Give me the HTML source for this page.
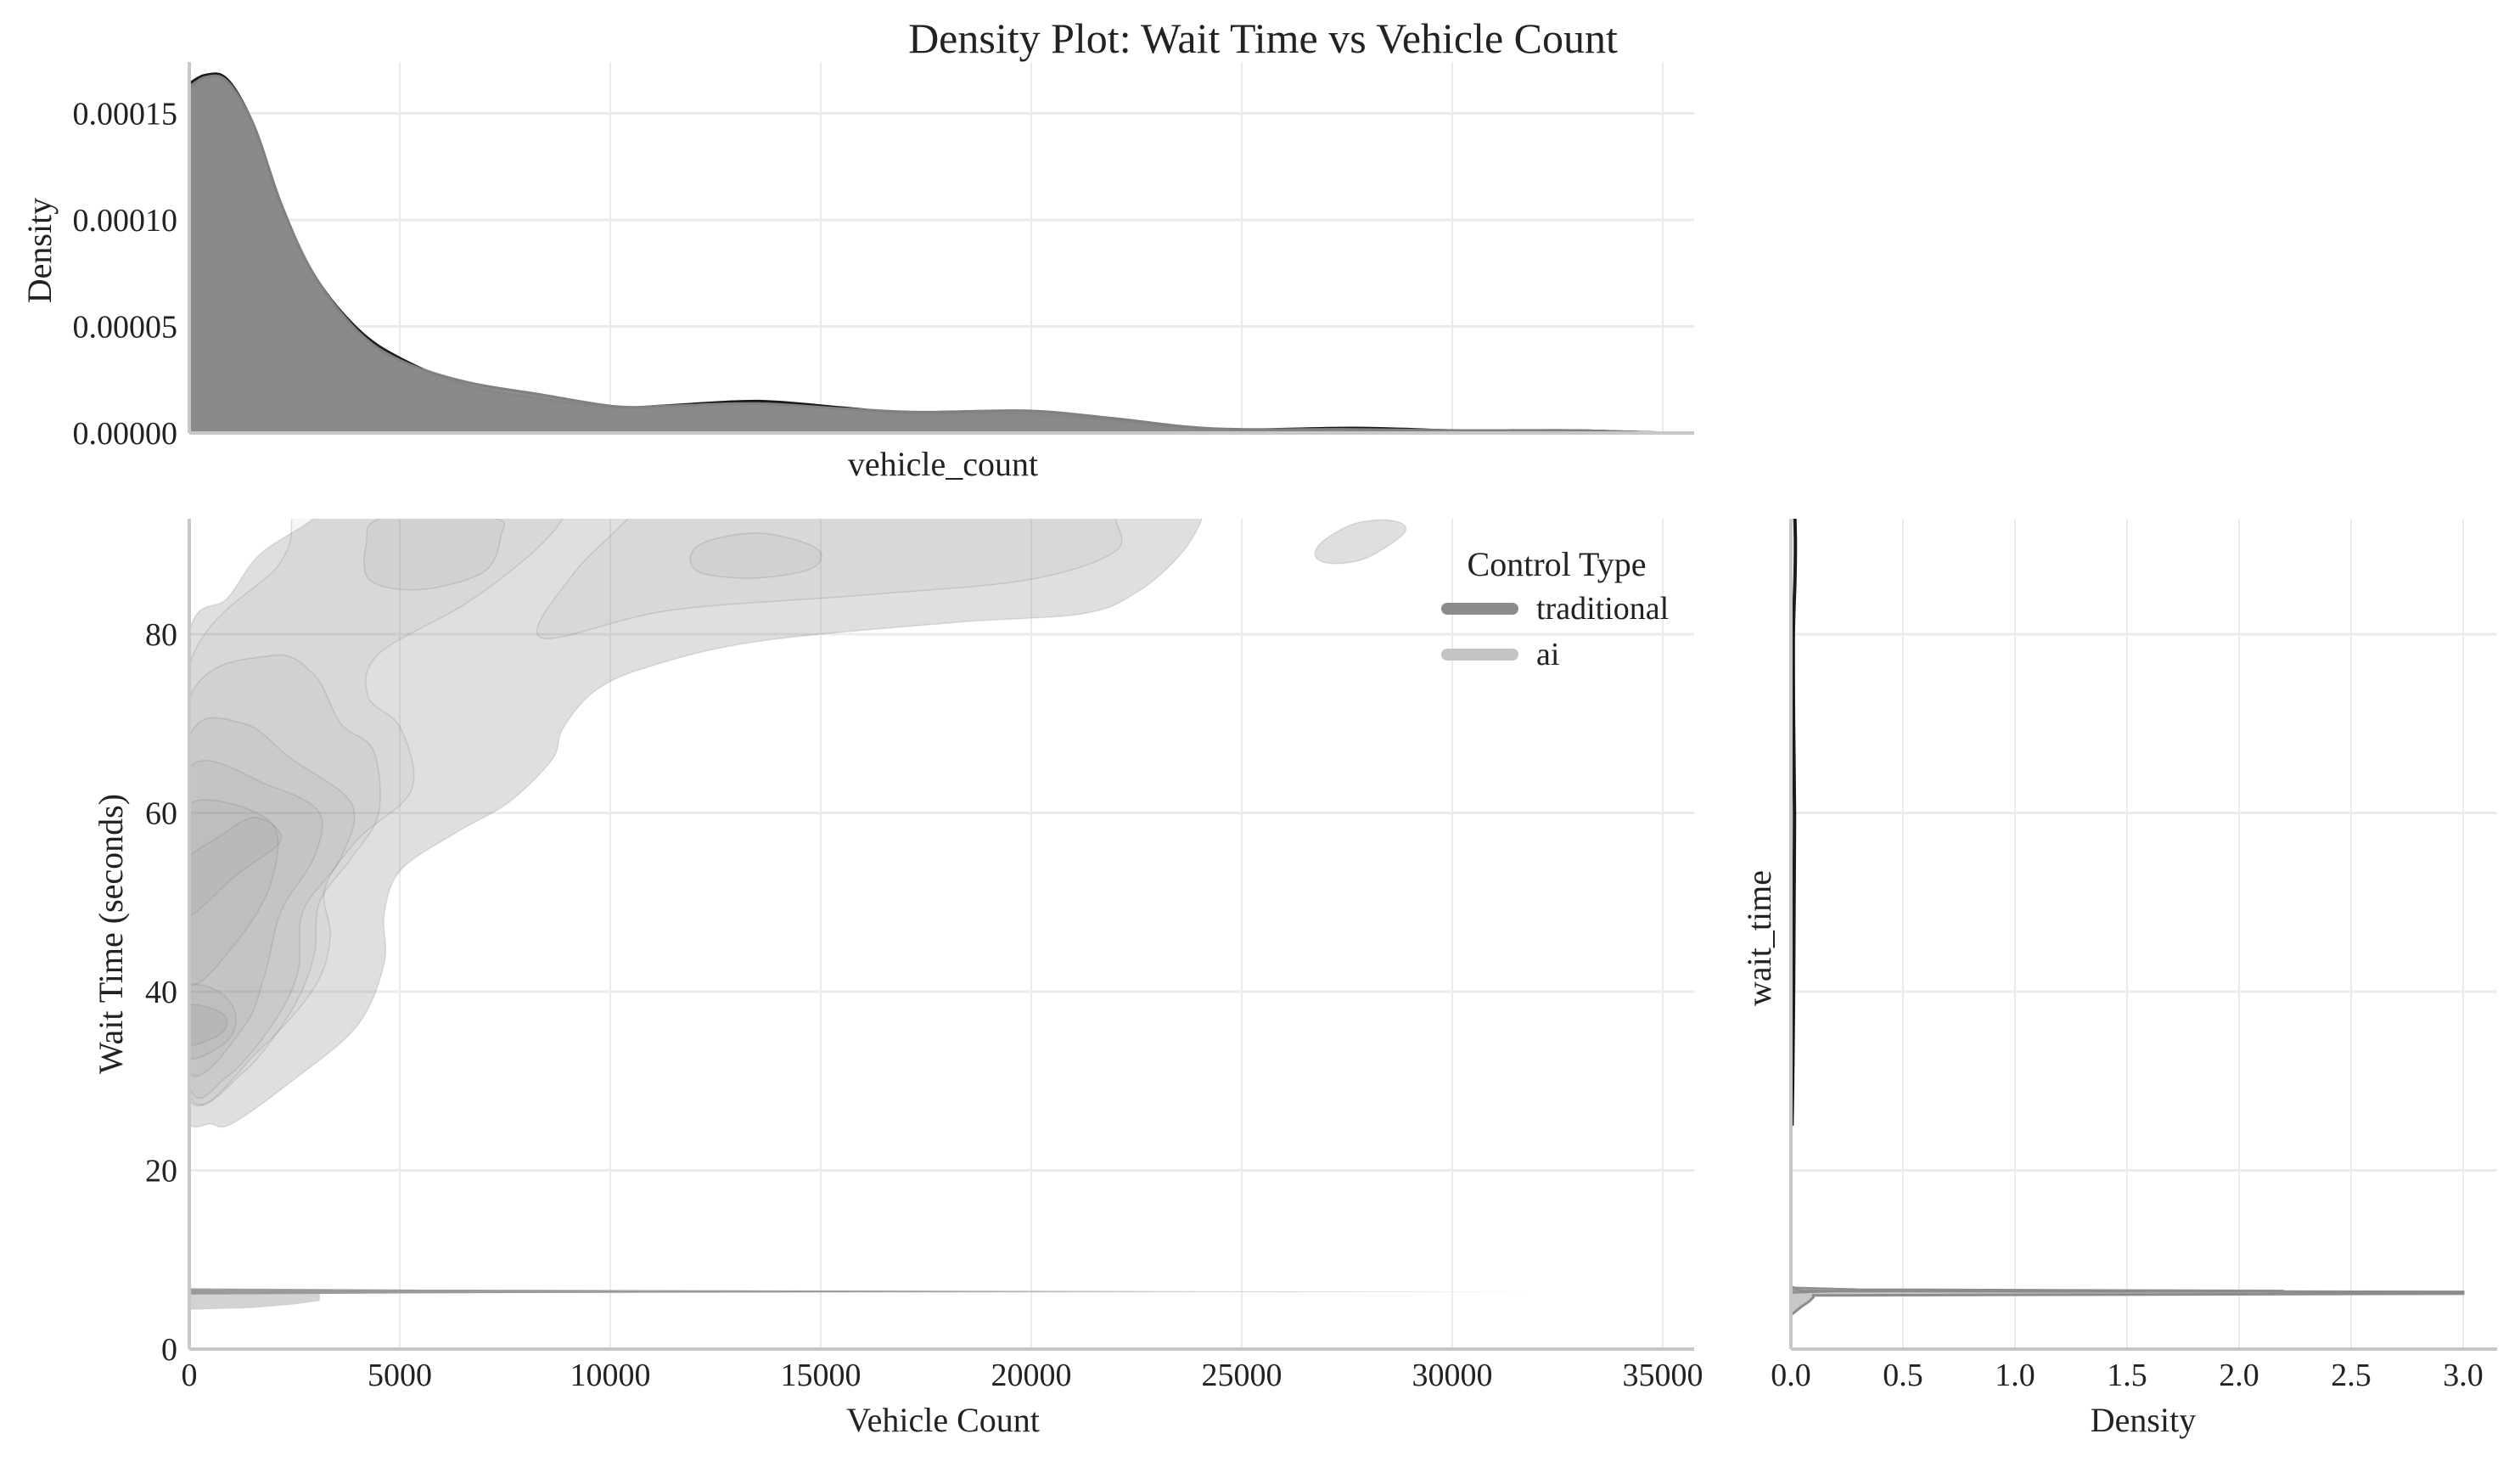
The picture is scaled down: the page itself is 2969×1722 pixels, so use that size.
<!DOCTYPE html>
<html><head><meta charset="utf-8"><style>
html,body{margin:0;padding:0;background:#fff;}
svg{display:block;font-family:"Liberation Serif",serif;}
</style></head><body>
<svg id="chart" width="2969" height="1722" viewBox="0 0 2969 1722" xmlns="http://www.w3.org/2000/svg">
<text x="1488" y="62" font-size="50" text-anchor="middle" fill="#222">Density Plot: Wait Time vs Vehicle Count</text>
<g id="topg"></g><g id="maing"></g><g id="rightg"></g>
</svg>
<script>
// ---- data ----
const xTicks = [0,5000,10000,15000,20000,25000,30000,35000];
const yTicks = [0,20,40,60,80];
const topTicks = [0,0.00005,0.0001,0.00015];
const topTickLabels = ["0.00000","0.00005","0.00010","0.00015"];
const rightTicks = [0,0.5,1.0,1.5,2.0,2.5,3.0];
const rightTickLabels = ["0.0","0.5","1.0","1.5","2.0","2.5","3.0"];
const seriesNames = ["traditional","ai"];
// marginal density of vehicle_count [vehicle, density]
const topAi = [[0,0.000162],[386,0.000167],[900,0.000165],[1540,0.000144],[2190,0.000107],[2960,0.0000743],[3990,0.000048],[5020,0.000034],[6560,0.0000240],[8360,0.0000180],[10160,0.0000124],[11450,0.0000128],[13510,0.0000138],[15570,0.0000114],[17370,0.0000098],[19940,0.0000104],[22000,0.0000068],[24310,0.0000021],[27660,0.0000017],[30230,0.0000012],[32800,0.0000012],[34860,0.0000002],[36500,0]];
const topTrad = [[0,0.000164],[386,0.000168],[900,0.000166],[1540,0.000144],[2190,0.000107],[2960,0.0000743],[3990,0.000049],[5020,0.000035],[6560,0.0000225],[8360,0.0000160],[10160,0.0000120],[11450,0.0000130],[13510,0.0000150],[15570,0.0000118],[17370,0.0000090],[19940,0.0000090],[22000,0.0000058],[24310,0.0000016],[27660,0.0000024],[30230,0.0000011],[32800,0.0000012],[34860,0.0000002],[36500,0]];
// KDE contour levels [vehicle, wait]
const level1 = [[0,25.2],[500,25.2],[1000,25.2],[2440,30],[3990,36.2],[4630,43.2],[4630,48.7],[5020,53.6],[6300,57.7],[7590,61.2],[8620,66],[8880,69.5],[9650,73.7],[10940,76.4],[13510,79.2],[18140,81.3],[21230,82.3],[22510,84.7],[23540,88.9],[24060,93],[24000,95],[2960,95],[2960,93],[1670,88.9],[900,84],[0,80.2],[-300,60],[-300,30]];
const level1b = [[26760,88.6],[27200,87.9],[28000,88.6],[28870,91.4],[28600,92.7],[27700,92.4],[26900,90.3]];
const level2a = [[0,27.9],[1670,33.5],[2960,40.4],[3350,46],[3220,51.5],[3990,57],[5280,62.6],[5020,69.5],[4250,73],[4500,77.8],[6560,83.4],[8100,88.9],[8880,93],[8880,95],[2440,95],[2440,93],[2130,87.8],[0,76.5],[-300,50]];
const level2b = [[8360,79.6],[11450,82.7],[16080,84.4],[19940,86.1],[22000,89.3],[22000,93],[22000,95],[10420,95],[10420,93],[9130,86.8]];
const level3a = [[0,28.5],[1290,31],[2440,38],[2960,44],[3090,50],[3860,55],[4500,60],[4370,67],[3600,70],[2960,75.5],[1930,77.6],[0,72.8],[-300,50]];
const level3b = [[4300,86],[5500,85],[7000,87],[7400,91],[7200,93],[4600,93],[4200,90]];
const level3c = [[12200,86.8],[13500,86.3],[14800,87.4],[14900,89.6],[13600,91.3],[12300,90.4],[11900,88.6]];
const level4 = [[0,29.5],[900,30.5],[1930,36],[2570,42],[2700,49],[3600,55],[3860,61],[2440,66],[1290,70],[0,68.5],[-300,50]];
const level5 = [[0,31],[1290,36],[1800,42],[2180,49],[2960,55],[3090,60],[1930,63],[0,65],[-300,48]];
const level6a = [[0,41],[1030,45],[1930,52],[1930,59],[0,61],[-300,51]];
const level6b = [[0,32.5],[900,34.5],[1100,37.5],[700,40],[0,40.5],[-300,36]];
const level7a = [[0,48.5],[1100,53],[2180,57],[1550,59.5],[600,57],[0,55],[-300,51]];
const level7b = [[0,34],[800,35.5],[800,37.5],[0,38.5],[-300,36]];
const aiBand = [[0,4.4],[1500,4.6],[2500,5.0],[3100,5.4],[3100,6.2],[10000,6.3],[32000,6.4],[10000,6.6],[0,6.7]];
const tradBand = [[0,6.1],[6000,6.25],[24000,6.45],[6000,6.65],[0,6.8]];
// marginal density of wait_time [wait, density]
const rightTrad = [[25,0.005],[30,0.008],[40,0.012],[50,0.014],[60,0.016],[70,0.012],[80,0.011],[86,0.018],[90,0.02],[93,0.018]];
const rightAiSpike = [[3.8,0],[4.2,0.02],[4.8,0.05],[5.3,0.08],[5.8,0.1],[6.0,0.1],[6.2,3.0],[6.4,3.0],[6.5,0.05],[6.8,0.02],[7,0]];
const rightTradSpike = [[6.3,0],[6.45,0.2],[6.55,2.2],[6.7,0.3],[6.9,0]];

// ---- layout ----
const NS="http://www.w3.org/2000/svg";
const X0=223, X1=1996, PX=248/5000;
const sx = v => X0 + v*PX;
const TY0=510, TY1=73, sty = d => TY0 - d/0.00005*125.5;
const MY0=1589, MY1=611, sy = w => MY0 - w*10.525;
const RX0=2110, RX1=2942, srx = d => RX0 + d*264;
const TICK=38, LAB=40;

function el(parent,tag,attrs){const e=document.createElementNS(NS,tag);for(const k in attrs)e.setAttribute(k,attrs[k]);parent.appendChild(e);return e;}
function txt(parent,x,y,s,size,anchor,rot){const t=el(parent,'text',{x:x,y:y,'font-size':size,'text-anchor':anchor||'middle',fill:'#222'});if(rot)t.setAttribute('transform',`rotate(-90 ${x} ${y})`);t.textContent=s;return t;}
function pathOf(pts,fx,fy){return 'M'+pts.map(p=>fx(p[0]).toFixed(1)+','+fy(p[1]).toFixed(1)).join(' L')+' Z';}
function smooth(pts,fx,fy,close){
  const P=pts.map(p=>[fx(p[0]),fy(p[1])]);const n=P.length;let d=`M${P[0][0]},${P[0][1]}`;
  for(let i=0;i<(close?n:n-1);i++){const p0=P[(i-1+n)%n],p1=P[i],p2=P[(i+1)%n],p3=P[(i+2)%n];
    const a0=(close||i>0)?p0:p1, a3=(close||i<n-2)?p3:p2;
    d+=` C${p1[0]+(p2[0]-a0[0])/6},${p1[1]+(p2[1]-a0[1])/6} ${p2[0]-(a3[0]-p1[0])/6},${p2[1]-(a3[1]-p1[1])/6} ${p2[0]},${p2[1]}`;}
  return d+(close?' Z':'');}

// ---- top marginal ----
const topG=document.getElementById('topg');
xTicks.forEach(v=>{if(v>0){const g=el(topG,'line',{x1:sx(v),x2:sx(v),y1:TY1,y2:TY0,stroke:'#ebebeb','stroke-width':2});

}});
topTicks.forEach((v,i)=>{if(v>0){const g=el(topG,'line',{x1:X0,x2:X1,y1:sty(v),y2:sty(v),stroke:'#ebebeb','stroke-width':3});

}
const t=txt(topG,X0-14,sty(v)+13,topTickLabels[i],TICK,'end');

});
const tclip=el(topG,'clipPath',{id:'tclip'});el(tclip,'rect',{x:X0,y:0,width:X1-X0,height:TY0+2});
const tg=el(topG,'g',{'clip-path':'url(#tclip)'});
function areaTop(data,fill,stroke,name){
const p=el(tg,'path',{d:smooth(data,sx,sty,false)+` L${sx(data[data.length-1][0])},${TY0} L${sx(0)},${TY0} Z`,fill:fill,stroke:stroke,'stroke-width':3});

}
areaTop(topTrad,'#8a8a8a','#1a1a1a','top-density-traditional');
areaTop(topAi,'rgba(138,138,138,0.97)','#808080','top-density-ai');
el(topG,'line',{x1:X0,x2:X0,y1:TY1,y2:TY0,stroke:'#c8c8c8','stroke-width':4});
el(topG,'line',{x1:X0,x2:X1,y1:TY0,y2:TY0,stroke:'#c8c8c8','stroke-width':4});
let t1=txt(topG,1111,560,'vehicle_count',LAB);


let t2=txt(topG,60,295,'Density',LAB,'middle',true);



// ---- main joint plot ----
const mainG=document.getElementById('maing');
xTicks.forEach(v=>{if(v>0){const g=el(mainG,'line',{x1:sx(v),x2:sx(v),y1:MY1,y2:MY0,stroke:'#ebebeb','stroke-width':2});

}
const t=txt(mainG,sx(v),1632,String(v),TICK);

});
yTicks.forEach(v=>{if(v>0){const g=el(mainG,'line',{x1:X0,x2:X1,y1:sy(v),y2:sy(v),stroke:'#ebebeb','stroke-width':3});

}
const t=txt(mainG,X0-14,sy(v)+13,String(v),TICK,'end');

});
const clip=el(mainG,'clipPath',{id:'mclip'});el(clip,'rect',{x:X0,y:MY1,width:X1-X0,height:MY0-MY1});
const cg=el(mainG,'g',{'clip-path':'url(#mclip)'});
const levels=[[level1,0.25],[level1b,0.25],[level2a,0.07],[level2b,0.07],[level3a,0.07],[level3b,0.07],[level3c,0.07],[level4,0.08],[level5,0.08],[level6a,0.08],[level6b,0.08],[level7a,0.08],[level7b,0.1]];
levels.forEach(([pts,a])=>{const p=el(cg,'path',{d:smooth(pts,sx,sy,true),fill:`rgba(128,128,128,${a})`,stroke:'rgba(110,110,110,0.2)','stroke-width':1.5});

});
let ab=el(cg,'path',{d:pathOf(aiBand,sx,sy),fill:'rgba(200,200,200,0.8)'});


let tb=el(cg,'path',{d:pathOf(tradBand,sx,sy),fill:'rgba(130,130,130,0.7)'});


el(mainG,'line',{x1:X0,x2:X0,y1:MY1,y2:MY0,stroke:'#c8c8c8','stroke-width':4});
el(mainG,'line',{x1:X0,x2:X1,y1:MY0,y2:MY0,stroke:'#c8c8c8','stroke-width':4});
let t3=txt(mainG,1111,1686,'Vehicle Count',LAB);


let t4=txt(mainG,144,1100,'Wait Time (seconds)',LAB,'middle',true);


// legend
const lg=el(mainG,'g',{});


let lt=txt(lg,1834,678,'Control Type',LAB);


const swCol=['#8c8c8c','#c4c4c4'];
seriesNames.forEach((s,i)=>{const y=717+i*54;
const l=el(lg,'line',{x1:1705,x2:1782,y1:y,y2:y,stroke:swCol[i],'stroke-width':14,'stroke-linecap':'round'});


const t=txt(lg,1810,y+12,s,TICK,'start');

});

// ---- right marginal ----
const rightG=document.getElementById('rightg');
rightTicks.forEach((v,i)=>{if(v>0){const g=el(rightG,'line',{x1:srx(v),x2:srx(v),y1:MY1,y2:MY0,stroke:'#ebebeb','stroke-width':2});

}
const t=txt(rightG,srx(v),1632,rightTickLabels[i],TICK);

});
yTicks.forEach(v=>{if(v>0){const g=el(rightG,'line',{x1:RX0,x2:RX1,y1:sy(v),y2:sy(v),stroke:'#ebebeb','stroke-width':3});

}});
const rc=el(rightG,'clipPath',{id:'rclip'});el(rc,'rect',{x:RX0,y:MY1,width:RX1-RX0,height:MY0-MY1});
const rg=el(rightG,'g',{'clip-path':'url(#rclip)'});
const swap = arr => arr.map(p=>[p[1],p[0]]);
let rs=el(rg,'path',{d:pathOf(swap(rightAiSpike),srx,sy),fill:'rgba(185,185,185,0.8)',stroke:'#8c8c8c','stroke-width':3});


let rt2=el(rg,'path',{d:pathOf(swap(rightTradSpike),srx,sy),fill:'rgba(140,140,140,0.8)',stroke:'#8c8c8c','stroke-width':2});


let rt=el(rg,'path',{d:smooth(swap(rightTrad),srx,sy,false),fill:'none',stroke:'#1a1a1a','stroke-width':4});


el(rightG,'line',{x1:RX0,x2:RX0,y1:MY1,y2:MY0,stroke:'#c8c8c8','stroke-width':4});
el(rightG,'line',{x1:RX0,x2:RX1,y1:MY0,y2:MY0,stroke:'#c8c8c8','stroke-width':4});
let t5=txt(rightG,2525,1686,'Density',LAB);


let t6=txt(rightG,2086,1105,'wait_time',LAB,'middle',true);


</script>
</body></html>
